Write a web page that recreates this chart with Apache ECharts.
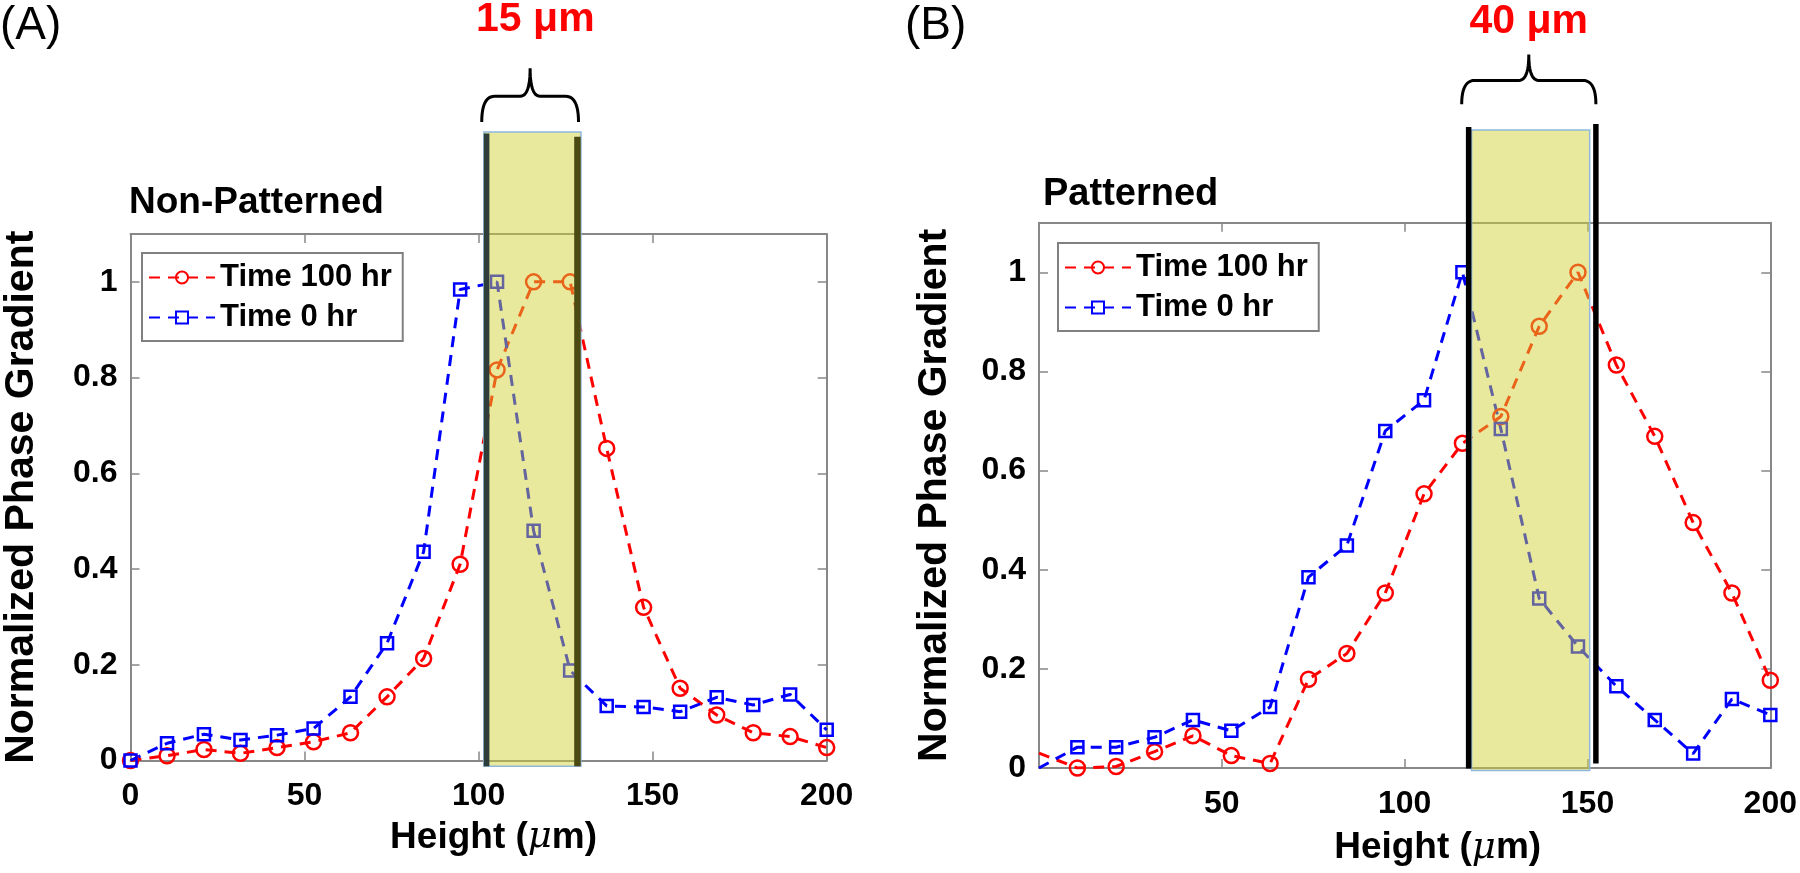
<!DOCTYPE html>
<html><head><meta charset="utf-8">
<script src="https://cdn.jsdelivr.net/npm/echarts@6/dist/echarts.min.js"></script>
<style>html,body{margin:0;padding:0;background:#fff;}#chart{width:1800px;height:873px;}</style>
</head><body><div id="chart"></div>
<script>
// ---- data ----
const heights = [0, 10.5, 21.1, 31.6, 42.1, 52.6, 63.2, 73.7, 84.2, 94.7, 105.3, 115.8, 126.3, 136.8, 147.4, 157.9, 168.4, 178.9, 189.5, 200];
const nonPatterned100 = [0, 0.010, 0.023, 0.015, 0.027, 0.039, 0.058, 0.133, 0.213, 0.41, 0.816, 1.0, 1.0, 0.652, 0.320, 0.151, 0.095, 0.058, 0.050, 0.027];
const nonPatterned0 = [0, 0.036, 0.055, 0.043, 0.053, 0.067, 0.133, 0.245, 0.436, 0.984, 1.0, 0.48, 0.188, 0.114, 0.112, 0.102, 0.132, 0.116, 0.138, 0.064];
const patterned100 = [0.03, 0, 0.003, 0.033, 0.065, 0.025, 0.009, 0.179, 0.231, 0.353, 0.553, 0.655, 0.709, 0.891, 1.0, 0.813, 0.669, 0.495, 0.353, 0.177];
const patterned0 = [0, 0.042, 0.042, 0.062, 0.097, 0.075, 0.123, 0.385, 0.449, 0.68, 0.742, 1.0, 0.684, 0.342, 0.245, 0.165, 0.097, 0.029, 0.139, 0.107];
const seriesNames = ['Time 100 hr', 'Time 0 hr'];
const panelTitles = ['Non-Patterned', 'Patterned'];
const panelTags = ['(A)', '(B)'];
const bandLabels = ['15 μm', '40 μm'];
const yTicks = [0, 0.2, 0.4, 0.6, 0.8, 1];
const xTicks = [0, 50, 100, 150, 200];

// annotation extents in data units
const bandAX = [101.5, 129.4], bandAY = [-0.012, 1.313];
const edgeAX = [102.3, 128.4];
const braceAX = [100.9, 128.7], braceAY = [1.334, 1.446], labelAY = 1.547;
const bandBX = [118.3, 150.6], bandBY = [-0.005, 1.287];
const edgeBX = [117.5, 152.3], edgeBYtop = [1.293, 1.299], edgeBYbot = [-0.001, 0.009];
const braceBX = [115.6, 152.3], braceBY = [1.339, 1.439], labelBY = 1.505;

const FONT = '"Liberation Sans", Arial, sans-serif';
const AXC = '#888888';

function quad(p0, c, p1, n) {
  const pts = [];
  for (let i = 0; i <= n; i++) {
    const t = i / n, u = 1 - t;
    pts.push([u*u*p0[0] + 2*u*t*c[0] + t*t*p1[0], u*u*p0[1] + 2*u*t*c[1] + t*t*p1[1]]);
  }
  return pts;
}
function bracePoints(api, bx, by) {
  const pl = api.coord([bx[0], by[0]]), pr = api.coord([bx[1], by[0]]), pt = api.coord([(bx[0]+bx[1])/2, by[1]]);
  const x0 = pl[0], x1 = pr[0], yb = pl[1], yt = pt[1], xc = (x0 + x1) / 2;
  const ym = yb - 0.48 * (yb - yt), r = 13, r2 = 10;
  let pts = [];
  pts = pts.concat(quad([x0, yb], [x0, ym], [x0 + r, ym], 12));
  pts = pts.concat(quad([xc - r2, ym], [xc, ym], [xc, yt], 12));
  pts = pts.concat(quad([xc, yt], [xc, ym], [xc + r2, ym], 12));
  pts = pts.concat(quad([x1 - r, ym], [x1, ym], [x1, yb], 12));
  return pts;
}
function bandRect(api, bx, by, fill) {
  const a = api.coord([bx[0], by[1]]), b = api.coord([bx[1], by[0]]);
  return {type: 'rect', shape: {x: a[0], y: a[1], width: b[0] - a[0], height: b[1] - a[1]},
    style: {fill: fill, stroke: '#8fb8dc', lineWidth: 1.5}};
}
function vline(api, x, y0, y1, color, w) {
  const a = api.coord([x, y0]), b = api.coord([x, y1]);
  return {type: 'line', shape: {x1: a[0], y1: a[1], x2: b[0], y2: b[1]}, style: {stroke: color, lineWidth: w}};
}
function label(api, x, y, text) {
  const p = api.coord([x, y]);
  return {type: 'text', style: {text: text, x: p[0], y: p[1], align: 'center', verticalAlign: 'middle',
    font: 'bold 41px ' + FONT, fill: '#ff0000'}};
}
const FILL = 'rgba(208,208,53,0.48)';

function renderA(params, api) {
  return {type: 'group', children: [
    bandRect(api, bandAX, bandAY, FILL),
    vline(api, edgeAX[0], bandAY[0], bandAY[1] - 0.003, '#2c3d3a', 5.6),
    vline(api, edgeAX[1], bandAY[0], bandAY[1] - 0.01, '#4a4a12', 6.5),
    {type: 'polyline', shape: {points: bracePoints(api, braceAX, braceAY)}, style: {stroke: '#000', lineWidth: 3, fill: null}},
    label(api, (braceAX[0] + braceAX[1]) / 2 + 1.5, labelAY, bandLabels[0])
  ]};
}
function renderB(params, api) {
  return {type: 'group', children: [
    bandRect(api, bandBX, bandBY, FILL),
    vline(api, edgeBX[0], edgeBYbot[0], edgeBYtop[0], '#000', 5.5),
    vline(api, edgeBX[1], edgeBYbot[1], edgeBYtop[1], '#000', 5.5),
    {type: 'polyline', shape: {points: bracePoints(api, braceBX, braceBY)}, style: {stroke: '#000', lineWidth: 3, fill: null}},
    label(api, (braceBX[0] + braceBX[1]) / 2, labelBY, bandLabels[1])
  ]};
}

function xAxisMain(grid, hideZero, gap, shift) {
  return {gridIndex: grid, type: 'value', min: xTicks[0], max: xTicks[xTicks.length - 1], interval: xTicks[1] - xTicks[0],
    position: 'bottom',
    axisLine: {show: true, onZero: false, lineStyle: {color: AXC, width: 2}},
    axisTick: {show: true, inside: true, length: 9, lineStyle: {color: AXC, width: 1.5}},
    axisLabel: {margin: 20, fontSize: 32, fontWeight: 'bold', color: '#000', fontFamily: FONT, showMinLabel: !hideZero},
    splitLine: {show: false},
    name: '{n|Height (}{m|μ}{n|m)}', nameLocation: 'middle', nameGap: gap,
    nameTextStyle: {padding: [0, 0, 0, shift], lineHeight: 40,
      rich: {n: {fontSize: 37, fontWeight: 'bold', fontFamily: FONT, color: '#000', lineHeight: 40},
             m: {fontSize: 37, fontStyle: 'italic', fontFamily: '"DejaVu Serif", serif', color: '#000', lineHeight: 40}}}
  };
}
function xAxisTop(grid) {
  return {gridIndex: grid, type: 'value', min: xTicks[0], max: xTicks[xTicks.length - 1], interval: xTicks[1] - xTicks[0],
    position: 'top', axisLine: {show: true, onZero: false, lineStyle: {color: AXC, width: 2}},
    axisTick: {show: true, inside: true, length: 9, lineStyle: {color: AXC, width: 1.5}},
    axisLabel: {show: false}, splitLine: {show: false}};
}
function yAxisMain(grid, gap) {
  return {gridIndex: grid, type: 'value', min: 0, max: 1.1, interval: yTicks[1] - yTicks[0], position: 'left',
    axisLine: {show: true, onZero: false, lineStyle: {color: AXC, width: 2}},
    axisTick: {show: true, inside: true, length: 9, lineStyle: {color: AXC, width: 1.5}},
    axisLabel: {margin: 13, fontSize: 32, fontWeight: 'bold', color: '#000', fontFamily: FONT, showMaxLabel: false},
    splitLine: {show: false},
    name: 'Normalized Phase Gradient', nameLocation: 'middle', nameGap: gap,
    nameTextStyle: {fontSize: 41, fontWeight: 'bold', fontFamily: FONT, color: '#000', lineHeight: 41}};
}
function yAxisRight(grid) {
  return {gridIndex: grid, type: 'value', min: 0, max: 1.1, interval: yTicks[1] - yTicks[0], position: 'right',
    axisLine: {show: true, onZero: false, lineStyle: {color: AXC, width: 2}},
    axisTick: {show: true, inside: true, length: 9, lineStyle: {color: AXC, width: 1.5}},
    axisLabel: {show: false}, splitLine: {show: false}};
}
function lineSeries(name, xi, yi, vals, color, symbol, size, hideFirst) {
  return {name: name, type: 'line', xAxisIndex: xi, yAxisIndex: yi, z: 3,
    data: heights.map((h, i) => (hideFirst && i === 0) ? {value: [h, vals[i]], symbol: 'none'} : [h, vals[i]]),
    symbol: symbol, symbolSize: size, showAllSymbol: true,
    lineStyle: {color: color, width: 3, type: [11, 8]},
    itemStyle: {color: 'rgba(255,255,255,0)', borderColor: color, borderWidth: 2.5},
    emphasis: {disabled: true}, animation: false};
}
function legendAt(left, top) {
  return {data: seriesNames, orient: 'vertical', left: left, top: top, padding: [9, 11, 8, 6], itemGap: 9,
    itemWidth: 66, itemHeight: 15, selectedMode: false, borderColor: '#808080', borderWidth: 2,
    backgroundColor: '#fff', z: 6,
    textStyle: {fontSize: 31, fontWeight: 'bold', color: '#000', fontFamily: FONT, lineHeight: 31}};
}

const chart = echarts.init(document.getElementById('chart'), null, {renderer: 'canvas'});
chart.setOption({
  backgroundColor: '#fff',
  animation: false,
  title: [
    {text: panelTags[0], left: 0, top: 3, padding: 0, textStyle: {fontSize: 46, fontWeight: 'normal', color: '#000', fontFamily: FONT}},
    {text: panelTags[1], left: 905, top: 3, padding: 0, textStyle: {fontSize: 46, fontWeight: 'normal', color: '#000', fontFamily: FONT}},
    {text: panelTitles[0], left: 129, top: 184, padding: 0, textStyle: {fontSize: 37, fontWeight: 'bold', color: '#000', fontFamily: FONT}},
    {text: panelTitles[1], left: 1043, top: 176, padding: 0, textStyle: {fontSize: 38, fontWeight: 'bold', color: '#000', fontFamily: FONT}}
  ],
  grid: [
    {left: 126, top: 234, width: 700.7, height: 526.5},
    {left: 1039, top: 222.7, width: 735, height: 550}
  ],
  xAxis: [xAxisMain(0, false, 56.5, 30), xAxisTop(0), xAxisMain(1, true, 60, 66), xAxisTop(1)],
  yAxis: [yAxisMain(0, 88.5), yAxisRight(0), yAxisMain(1, 84), yAxisRight(1)],
  legend: [legendAt(142, 253), legendAt(1058, 243)],
  series: [
    lineSeries(seriesNames[0], 0, 0, nonPatterned100, '#ff0000', 'circle', 15, false),
    lineSeries(seriesNames[1], 0, 0, nonPatterned0, '#0000ff', 'rect', 12, false),
    lineSeries(seriesNames[0], 2, 2, patterned100, '#ff0000', 'circle', 15, true),
    lineSeries(seriesNames[1], 2, 2, patterned0, '#0000ff', 'rect', 12, true),
    {type: 'custom', xAxisIndex: 0, yAxisIndex: 0, clip: false, silent: true, z: 10,
     data: [[bandAX[0], bandAY[0]]], renderItem: renderA, animation: false},
    {type: 'custom', xAxisIndex: 2, yAxisIndex: 2, clip: false, silent: true, z: 10,
     data: [[bandBX[0], bandBY[0]]], renderItem: renderB, animation: false}
  ]
});
</script></body></html>
